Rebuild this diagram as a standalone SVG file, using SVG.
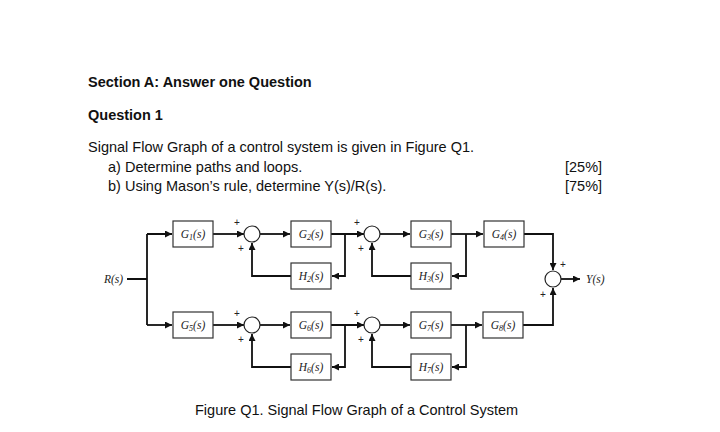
<svg xmlns="http://www.w3.org/2000/svg" width="720" height="432" viewBox="0 0 720 432">
<defs>
<marker id="a" viewBox="0 0 10 10" refX="10" refY="5" markerWidth="7" markerHeight="7" markerUnits="userSpaceOnUse" orient="auto"><path d="M0,0L10,5L0,10z" fill="#111"/></marker>
<style>
.t{font-family:"Liberation Sans","Roboto",sans-serif;font-size:14.5px;fill:#111}
.b{font-weight:bold}
.box{fill:#fff;stroke:#333;stroke-width:1.2}
.s{fill:#fff;stroke:#222;stroke-width:1.2}
.l{fill:none;stroke:#111;stroke-width:1.8}
.m{font-family:"Liberation Serif",serif;font-style:italic;font-size:11.5px;fill:#222}
.sub{font-size:8px}
.p{font-family:"Liberation Sans",sans-serif;font-size:10px;fill:#222}
</style>
</defs>
<rect width="720" height="432" fill="#fff"/>
<text class="t b" x="88" y="87">Section A: Answer one Question</text>
<text class="t b" x="88" y="120">Question 1</text>
<text class="t" x="88" y="152">Signal Flow Graph of a control system is given in Figure Q1.</text>
<text class="t" x="108" y="172">a)  Determine paths and loops.</text>
<text class="t" x="108" y="191">b)  Using Mason’s rule, determine Y(s)/R(s).</text>
<text class="t" x="565" y="172">[25%]</text>
<text class="t" x="565" y="191">[75%]</text>
<g id="connectors">
<path class="l" d="M127,279H147M147,234V325M147,234H172" marker-end="url(#a)"/>
<path class="l" d="M147,325H172" marker-end="url(#a)"/>
<path class="l" d="M213,234H244" marker-end="url(#a)"/>
<path class="l" d="M260,234H290" marker-end="url(#a)"/>
<path class="l" d="M331,234H364" marker-end="url(#a)"/>
<path class="l" d="M345,234V276H332" marker-end="url(#a)"/>
<path class="l" d="M291,276H252V243" marker-end="url(#a)"/>
<path class="l" d="M380,234H410" marker-end="url(#a)"/>
<path class="l" d="M451,234H483" marker-end="url(#a)"/>
<path class="l" d="M466,234V276H452" marker-end="url(#a)"/>
<path class="l" d="M411,276H372V243" marker-end="url(#a)"/>
<path class="l" d="M524,234H553V270" marker-end="url(#a)"/>
<path class="l" d="M213,325H244" marker-end="url(#a)"/>
<path class="l" d="M260,325H290" marker-end="url(#a)"/>
<path class="l" d="M331,325H364" marker-end="url(#a)"/>
<path class="l" d="M345,325V367H332" marker-end="url(#a)"/>
<path class="l" d="M291,367H252V334" marker-end="url(#a)"/>
<path class="l" d="M380,325H410" marker-end="url(#a)"/>
<path class="l" d="M451,325H482" marker-end="url(#a)"/>
<path class="l" d="M466,325V367H452" marker-end="url(#a)"/>
<path class="l" d="M411,367H372V334" marker-end="url(#a)"/>
<path class="l" d="M523,325H553V288" marker-end="url(#a)"/>
<path class="l" d="M561,279H580" marker-end="url(#a)"/>
</g>
<g id="R"><text class="m" x="104" y="283">R(s)</text></g>
<g id="Y"><text class="m" x="586" y="283">Y(s)</text></g>
<g id="G1"><rect class="box" x="173" y="221" width="40" height="26"/><text class="m" x="193" y="238" text-anchor="middle">G<tspan class="sub" dy="2">1</tspan><tspan dy="-2">(s)</tspan></text></g>
<g id="G2"><rect class="box" x="291" y="221" width="40" height="26"/><text class="m" x="311" y="238" text-anchor="middle">G<tspan class="sub" dy="2">2</tspan><tspan dy="-2">(s)</tspan></text></g>
<g id="G3"><rect class="box" x="411" y="221" width="40" height="26"/><text class="m" x="431" y="238" text-anchor="middle">G<tspan class="sub" dy="2">3</tspan><tspan dy="-2">(s)</tspan></text></g>
<g id="G4"><rect class="box" x="484" y="221" width="40" height="26"/><text class="m" x="504" y="238" text-anchor="middle">G<tspan class="sub" dy="2">4</tspan><tspan dy="-2">(s)</tspan></text></g>
<g id="H2"><rect class="box" x="291" y="263" width="40" height="26"/><text class="m" x="311" y="280" text-anchor="middle">H<tspan class="sub" dy="2">2</tspan><tspan dy="-2">(s)</tspan></text></g>
<g id="H3"><rect class="box" x="411" y="263" width="40" height="26"/><text class="m" x="431" y="280" text-anchor="middle">H<tspan class="sub" dy="2">3</tspan><tspan dy="-2">(s)</tspan></text></g>
<g id="G5"><rect class="box" x="173" y="312" width="40" height="26"/><text class="m" x="193" y="329" text-anchor="middle">G<tspan class="sub" dy="2">5</tspan><tspan dy="-2">(s)</tspan></text></g>
<g id="G6"><rect class="box" x="291" y="312" width="40" height="26"/><text class="m" x="311" y="329" text-anchor="middle">G<tspan class="sub" dy="2">6</tspan><tspan dy="-2">(s)</tspan></text></g>
<g id="G7"><rect class="box" x="411" y="312" width="40" height="26"/><text class="m" x="431" y="329" text-anchor="middle">G<tspan class="sub" dy="2">7</tspan><tspan dy="-2">(s)</tspan></text></g>
<g id="G8"><rect class="box" x="483" y="312" width="40" height="26"/><text class="m" x="503" y="329" text-anchor="middle">G<tspan class="sub" dy="2">8</tspan><tspan dy="-2">(s)</tspan></text></g>
<g id="H6"><rect class="box" x="291" y="354" width="40" height="26"/><text class="m" x="311" y="371" text-anchor="middle">H<tspan class="sub" dy="2">6</tspan><tspan dy="-2">(s)</tspan></text></g>
<g id="H7"><rect class="box" x="411" y="354" width="40" height="26"/><text class="m" x="431" y="371" text-anchor="middle">H<tspan class="sub" dy="2">7</tspan><tspan dy="-2">(s)</tspan></text></g>
<g id="S1"><circle class="s" cx="252" cy="234" r="8"/><text class="p" x="234" y="226">+</text><text class="p" x="238" y="252">+</text></g>
<g id="S2"><circle class="s" cx="372" cy="234" r="8"/><text class="p" x="354" y="226">+</text><text class="p" x="358" y="252">+</text></g>
<g id="S5"><circle class="s" cx="252" cy="325" r="8"/><text class="p" x="234" y="317">+</text><text class="p" x="238" y="343">+</text></g>
<g id="S6"><circle class="s" cx="372" cy="325" r="8"/><text class="p" x="354" y="317">+</text><text class="p" x="358" y="343">+</text></g>
<g id="S3"><circle class="s" cx="553" cy="279" r="8"/><text class="p" x="560" y="268">+</text><text class="p" x="540" y="298">+</text></g>
<text class="t" x="195" y="415">Figure Q1. Signal Flow Graph of a Control System</text>
</svg>
